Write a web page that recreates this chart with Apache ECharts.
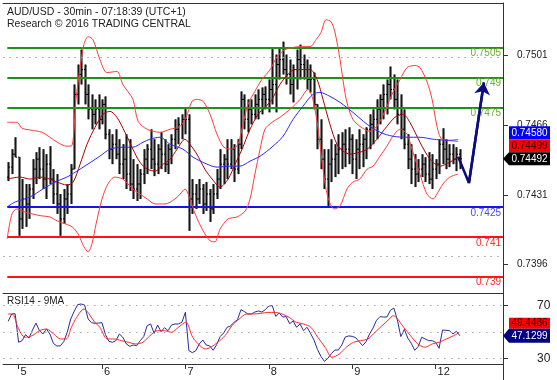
<!DOCTYPE html>
<html>
<head>
<meta charset="utf-8">
<script src="https://cdn.jsdelivr.net/npm/echarts@6/dist/echarts.min.js"></script>
<style>
html,body{margin:0;padding:0;background:#fff;}
#main{width:557px;height:380px;}
</style>
</head>
<body>
<div id="main"></div>
<script>
// ---------------- DATA ----------------
// hourly bars, hour 0 = start of day "5"; weekend collapsed (day "12" starts at hour 120)
const firstHour = -3;
const barOpen = [
0.744,0.7445,0.74515,0.745,0.7419,0.7429,0.74265,0.7434,0.7444,0.7449,
0.7444,0.7439,0.74465,0.7439,0.74315,0.74265,0.7419,0.7429,0.74315,0.7444,
0.74815,0.74915,0.7494,0.74815,0.7474,0.74715,0.7474,0.7469,0.74765,0.74615,
0.7454,0.74565,0.74515,0.74465,0.7449,0.74415,0.74365,0.7434,0.74365,0.74415,
0.7449,0.7454,0.7449,0.74465,0.7454,0.74515,0.74465,0.7454,0.7459,0.7464,
0.74665,0.7469,0.7469,0.7429,0.74315,0.7429,0.7434,0.74265,0.74315,0.7424,
0.74315,0.7439,0.74465,0.7449,0.74465,0.7454,0.7444,0.74565,0.7479,0.7469,
0.7474,0.74715,0.74765,0.7479,0.74815,0.7479,0.7484,0.74865,0.74965,0.7499,
0.7494,0.74915,0.74865,0.7494,0.7499,0.74965,0.7494,0.7489,0.7489,0.74765,
0.7459,0.7449,0.7439,0.74465,0.7449,0.74515,0.7454,0.74565,0.7454,0.7459,
0.7449,0.7454,0.74565,0.7459,0.7464,0.74665,0.7469,0.7474,0.7479,0.74815,
0.74865,0.7484,0.7479,0.74715,0.7464,0.74565,0.7449,0.7444,0.74415,0.7444,
0.74465,0.74415,0.7439,0.7444,0.74465,0.74565,0.7454,0.7449,0.74515,0.7449,
0.74515];
const barHigh = [
0.74475,0.7454,0.746,0.745,0.7439,0.74365,0.74365,0.7449,0.74525,0.7455,
0.7454,0.74515,0.74555,0.7444,0.74415,0.74315,0.7434,0.74365,0.74465,0.74865,
0.74965,0.7504,0.74965,0.74865,0.74815,0.7479,0.74815,0.7479,0.74805,0.7464,
0.74615,0.7464,0.7459,0.74565,0.74615,0.7459,0.7449,0.74465,0.7444,0.7454,
0.74565,0.7464,0.7459,0.74565,0.74625,0.7459,0.74565,0.74615,0.7469,0.747,
0.74715,0.7475,0.74715,0.7439,0.74365,0.7439,0.74365,0.74375,0.7434,0.74365,
0.7444,0.7454,0.74515,0.7459,0.7459,0.74565,0.7459,0.7483,0.74815,0.7479,
0.7479,0.74815,0.7484,0.7485,0.74855,0.7489,0.7505,0.75015,0.7505,0.7508,
0.75015,0.7499,0.74965,0.7504,0.75065,0.75015,0.7499,0.74965,0.74925,0.74765,
0.7469,0.7454,0.7454,0.7459,0.74565,0.74615,0.74625,0.7464,0.7465,0.74615,
0.7459,0.7464,0.74615,0.7465,0.74715,0.7474,0.7479,0.74815,0.74865,0.7489,
0.74955,0.74915,0.7489,0.74815,0.7474,0.74615,0.74565,0.74515,0.7449,0.74515,
0.745,0.74525,0.74515,0.7449,0.7459,0.74645,0.7459,0.74565,0.74565,0.7455,
0.7454];
const barLow = [
0.7438,0.74415,0.745,0.74105,0.7414,0.7415,0.7419,0.7429,0.74365,0.7439,
0.7434,0.7429,0.74365,0.74265,0.74215,0.74105,0.74165,0.74215,0.74265,0.7444,
0.74765,0.74865,0.74765,0.7469,0.7464,0.74665,0.7464,0.74665,0.7459,0.7449,
0.74465,0.7449,0.74415,0.7439,0.7434,0.7433,0.7429,0.7428,0.7429,0.74365,
0.74415,0.7444,0.74405,0.74415,0.7444,0.74425,0.74415,0.74465,0.7454,0.74565,
0.7459,0.74615,0.7413,0.74215,0.7424,0.74265,0.74215,0.7423,0.74175,0.74215,
0.7429,0.7434,0.74365,0.7439,0.7444,0.74375,0.74415,0.7454,0.7464,0.74625,
0.74665,0.7469,0.7469,0.74715,0.7474,0.74725,0.74765,0.74725,0.7489,0.74915,
0.74865,0.74815,0.74775,0.7484,0.7489,0.7489,0.7484,0.74825,0.7474,0.7454,
0.7444,0.7434,0.7425,0.74375,0.744,0.74415,0.7444,0.7445,0.74465,0.74415,
0.7439,0.7444,0.7445,0.7449,0.7454,0.74565,0.7459,0.74665,0.7469,0.74715,
0.7479,0.7474,0.74665,0.7459,0.7454,0.7444,0.74365,0.7435,0.74375,0.744,
0.74375,0.74365,0.7434,0.7439,0.74415,0.74465,0.7444,0.7445,0.74465,0.7443,
0.7444];
const barClose = [
0.7445,0.74515,0.745,0.7419,0.7429,0.74265,0.7434,0.7444,0.7449,0.7444,
0.7439,0.74465,0.7439,0.74315,0.74265,0.7419,0.7429,0.74315,0.7444,0.74815,
0.74915,0.7494,0.74815,0.7474,0.74715,0.7474,0.7469,0.74765,0.74615,0.7454,
0.74565,0.74515,0.74465,0.7449,0.74415,0.74365,0.7434,0.74365,0.74415,0.7449,
0.7454,0.7449,0.74465,0.7454,0.74515,0.74465,0.7454,0.7459,0.7464,0.74665,
0.7469,0.7469,0.7429,0.74315,0.7429,0.7434,0.74265,0.74315,0.7424,0.74315,
0.7439,0.74465,0.7449,0.74465,0.7454,0.7444,0.74565,0.7479,0.7469,0.7474,
0.74715,0.74765,0.7479,0.74815,0.7479,0.7484,0.74865,0.74965,0.7499,0.7494,
0.74915,0.74865,0.7494,0.7499,0.74965,0.7494,0.7489,0.7489,0.74765,0.7459,
0.7449,0.7439,0.74465,0.7449,0.74515,0.7454,0.74565,0.7454,0.7459,0.7449,
0.7454,0.74565,0.7459,0.7464,0.74665,0.7469,0.7474,0.7479,0.74815,0.74865,
0.7484,0.7479,0.74715,0.7464,0.74565,0.7449,0.7444,0.74415,0.7444,0.74465,
0.74415,0.7439,0.7444,0.74465,0.74565,0.7454,0.7449,0.74515,0.7449,0.74515,
0.74492];

// Bollinger bands and moving average: [hour, price]
const bbUpper = [[-3.3,0.74675],[-0.5,0.74675],[1,0.74645],[3.9,0.74635],[6.7,0.74625],[9,0.746],[11.1,0.74575],[13.9,0.74555],[15.4,0.7456],[16.5,0.7479],[17.7,0.7495],[18.8,0.75065],[20,0.75105],[21.4,0.7509],[23.4,0.7499],[25.4,0.74925],[28.3,0.7493],[30,0.74865],[32.9,0.7479],[34.4,0.7468],[37,0.7464],[40.7,0.74625],[43.6,0.7464],[46.5,0.74655],[48.2,0.747],[49.9,0.7478],[51.3,0.7479],[53.1,0.7478],[55.1,0.74715],[57.1,0.74615],[59.1,0.7455],[61.4,0.7454],[63.1,0.74565],[64.6,0.74665],[66,0.74765],[68,0.7483],[70,0.7489],[72.4,0.7494],[74.4,0.75005],[76.7,0.7504],[78.7,0.7505],[81,0.75055],[83.9,0.75055],[85.6,0.7509],[87,0.75125],[88.5,0.7519],[89.9,0.7518],[91,0.7513],[92.5,0.7499],[93.9,0.74825],[94.8,0.74755],[96.2,0.7469],[98.2,0.74655],[101.1,0.7463],[103.1,0.74655],[105.4,0.7473],[107.7,0.74825],[109.8,0.7489],[111.8,0.7495],[114.1,0.7496],[115.5,0.7495],[117.5,0.7488],[119,0.7479],[120.4,0.74655],[121.8,0.7459],[124.1,0.74585],[126.5,0.7459]];
const bbMiddle = [[-3.3,0.7439],[0.4,0.744],[3.3,0.7439],[6.2,0.744],[9,0.7439],[11.1,0.74375],[13.9,0.7436],[15.7,0.74375],[17.7,0.74465],[19.7,0.74565],[22,0.7465],[24.3,0.74715],[26.3,0.7473],[28.3,0.747],[30.6,0.74625],[32.9,0.7454],[34.9,0.74475],[37,0.7444],[39.3,0.7443],[41.6,0.74465],[43.6,0.7449],[45.6,0.7454],[47.9,0.7459],[49.3,0.74565],[51.3,0.74515],[53.6,0.7444],[55.7,0.7439],[58,0.7435],[60.3,0.7439],[62.3,0.74465],[64.3,0.7454],[66.6,0.7464],[68.9,0.74715],[70.9,0.7475],[72.9,0.7479],[75.2,0.74865],[77.5,0.74915],[79.5,0.7494],[81.6,0.7494],[83.9,0.7494],[85.9,0.7489],[87.6,0.7479],[89.6,0.74665],[91.6,0.74565],[93.4,0.7453],[95.4,0.74515],[98.2,0.74525],[100.3,0.7454],[103.1,0.7459],[106,0.74655],[108.3,0.747],[110.6,0.74715],[112.6,0.74675],[115.5,0.74575],[118.4,0.7449],[121.3,0.74455],[124.1,0.74475],[126.5,0.745]];
const bbLower = [[-3.3,0.7409],[-1.9,0.74215],[-0.5,0.7424],[1.8,0.74225],[3.9,0.74215],[6.7,0.74205],[9,0.742],[11.1,0.7418],[13.4,0.74165],[15.4,0.7415],[17.1,0.74115],[18.8,0.7405],[20,0.74025],[21.1,0.74065],[22.3,0.74165],[24,0.7429],[25.7,0.74365],[27.7,0.744],[30,0.7439],[32.9,0.7434],[34.9,0.74315],[37,0.7429],[39.3,0.74265],[42.1,0.74265],[45,0.7429],[46.5,0.74315],[47.9,0.7434],[49.3,0.7429],[50.8,0.74215],[53.1,0.7413],[55.1,0.7408],[56.5,0.74075],[58,0.7414],[60.3,0.7419],[62.9,0.742],[65.2,0.7423],[66.6,0.7429],[68,0.74415],[69.5,0.7454],[70.9,0.7464],[72.9,0.74675],[75.2,0.747],[78.1,0.7474],[81,0.7479],[83.3,0.7484],[84.7,0.7479],[86.2,0.7464],[87.6,0.7444],[89,0.743],[90.8,0.7424],[92.5,0.74255],[94.5,0.7434],[96.2,0.74375],[98.2,0.7439],[100.3,0.7444],[102,0.74455],[104,0.74505],[106,0.74555],[107.7,0.74605],[109.8,0.7464],[111.8,0.74615],[113.2,0.7454],[115.5,0.74415],[117.5,0.74315],[119.3,0.7429],[120.4,0.74315],[122.1,0.74365],[124.1,0.744],[126.5,0.74415]];
const movingAvg = [[-3.3,0.7425],[-1,0.74275],[3.3,0.743],[7,0.7434],[11.1,0.7438],[13.9,0.744],[17.7,0.7444],[23.4,0.74505],[26.3,0.7454],[30,0.7455],[32.9,0.7455],[35.8,0.74575],[37.8,0.7459],[40.7,0.746],[43.6,0.74565],[47.3,0.7454],[50.2,0.745],[54.2,0.74465],[57.1,0.7445],[60.8,0.74455],[63.7,0.74455],[66.6,0.7448],[69.5,0.74505],[73.2,0.74555],[76.1,0.74605],[79,0.7469],[81.8,0.74755],[84.7,0.74815],[86.7,0.74825],[89.6,0.74805],[92.5,0.74775],[96.2,0.74725],[100.3,0.74665],[104,0.74625],[107.7,0.74605],[111.8,0.746],[115.5,0.746],[119.3,0.7459],[126.5,0.7458]];

// projection arrow [hour, price]
const projection = [[126.5,0.74502],[129.6,0.7437],[133.9,0.74875]];

// horizontal levels
const greenLevels = [0.7505, 0.749, 0.7475];
const blueLevels = [0.7425];
const redLevels = [0.741, 0.739];

// RSI14 (one value per hourly bar) and its 9MA [hour, value]
const rsi = [
58.1,63.7,63.9,42.2,43.4,48,45.4,51.5,56.8,51,
48.5,52.3,48.5,41.4,39.4,39.4,42.7,49.8,59.9,65.7,
70.8,71.3,70.5,59.9,57.1,56.6,56.8,57.1,48,42.9,
42.2,43.4,48.5,46,40.9,39.1,40.1,39.6,43.4,46.5,
54.8,56.1,49,55.3,50.3,53.3,51,55.3,56.1,56.1,
57.4,65,35.8,34.3,35.8,40.9,43.9,40.1,39.4,36.1,
40.4,46.5,49.2,53.6,54.6,57.4,59.4,67,65.5,63.7,
63.7,65.2,66,65.2,67,69.8,70,61.9,64.4,61.4,
61.7,56.3,58.4,53.6,56.1,51,53.6,49,43.9,36.8,
31.5,27.7,30,33.5,36.3,36.3,40.1,46.2,47,46.7,
45.7,42.7,39.6,42.7,48.5,53,58.9,61.7,61.4,61.4,
66.5,68.2,59.1,46.5,52,45.4,41.4,36.1,38.9,46,
44.7,43.4,43.4,42.2,37.6,51.5,51.3,51,48.5,50.5,
47.13];
const rsiMa = [[-3.1,63.7],[-1.8,63.7],[-0.2,53.6],[1.8,46],[3.9,47.2],[6,51],[8,52.3],[10.1,48.5],[12.1,44.7],[13.7,44.7],[15.2,53.6],[16.7,61.1],[18.8,67.5],[20.3,63.7],[21.9,57.4],[23.4,53.6],[25.5,44.7],[27.5,44.7],[29.6,43.4],[31.6,42.2],[33.7,40.9],[35.8,42.2],[37.8,47.2],[39.9,51],[41.9,51],[44,49.8],[46,53.6],[48.1,57.4],[50.1,46],[52.2,39.6],[53.7,37.1],[55.3,38.4],[57.3,42.2],[59.4,47.2],[61.4,54.8],[63.5,59.9],[65.6,63.7],[67.6,63.7],[69.7,64.2],[71.7,64.9],[73.8,64.9],[75.8,63.7],[77.9,61.1],[79.9,57.4],[82,56.1],[84.1,53.6],[86.1,46],[88.2,38.4],[90.2,30.8],[92.3,33.3],[94.3,38.4],[96.4,42.2],[98.4,43.4],[100.5,44.7],[102.6,49.8],[104.6,54.8],[106.7,59.9],[107.7,62.4],[108.7,61.1],[110.8,53.6],[112.8,47.2],[114.9,40.9],[116.9,38.4],[119,40.9],[121,42.2],[123.1,44.7],[125.2,47.2],[126.7,49.45]];

// axis ticks / labels
const priceTicks = [0.7396, 0.7431, 0.7466, 0.7501];
const rsiTicks = [30, 70];
const rsiGridValues = [30, 50, 70];
const dayHours = [0, 24, 48, 72, 96, 120];
const dayLabels = ['5', '6', '7', '8', '9', '12'];

// last-value tags
const lastMa = '0.74580', lastMid = '0.74499', lastClose = '0.74492';
const lastRsiMa = '49.4486', lastRsi = '47.1299';
const titleLine1 = 'AUD/USD - 30min - 07:18:39 (UTC+1)';
const titleLine2 = 'Research \u00A9 2016 TRADING CENTRAL';
const rsiTitle = 'RSI14 - 9MA';

// ---------------- CHART ----------------
const FONT = '"Liberation Sans", Arial, sans-serif';
const xMin = -4.49, xMax = 139.4;
const chart = echarts.init(document.getElementById('main'), null, {renderer: 'canvas'});

function levelItems(values, lineColor, labelColor) {
  return values.map(v => [
    {coord: [firstHour - 0.25, v],
     lineStyle: {color: lineColor, width: 2, type: 'solid'},
     label: {show: true, position: 'insideEndBottom', formatter: String(v), color: labelColor,
             fontSize: 10, fontFamily: FONT, distance: [2, 1]}},
    {coord: [xMax, v]}
  ]);
}
function bandLine(data, color, z) {
  return {type: 'line', xAxisIndex: 0, yAxisIndex: 0, data: data, symbol: 'none', showSymbol: false,
          smooth: 0.3, silent: true, lineStyle: {color: color, width: 1}, z: z};
}

const option = {
  animation: false,
  backgroundColor: '#fff',
  textStyle: {fontFamily: FONT},
  grid: [
    {left: 3, right: 54, top: 3, height: 290, containLabel: false, outerBoundsMode: 'none'},
    {left: 3, right: 54, top: 293, height: 71, containLabel: false, outerBoundsMode: 'none'}
  ],
  xAxis: [
    {gridIndex: 0, type: 'value', min: xMin, max: xMax,
     axisLine: {show: true, onZero: false, lineStyle: {color: '#333', width: 1}},
     axisTick: {show: false}, axisLabel: {show: false}, splitLine: {show: false}},
    {gridIndex: 0, type: 'value', position: 'top', min: xMin, max: xMax,
     axisLine: {show: true, onZero: false, lineStyle: {color: '#333', width: 1}},
     axisTick: {show: false}, axisLabel: {show: false}, splitLine: {show: false}},
    {gridIndex: 1, type: 'value', min: xMin, max: xMax,
     axisLine: {show: true, onZero: false, lineStyle: {color: '#333', width: 1}},
     axisTick: {show: true, customValues: dayHours, length: 5, lineStyle: {color: '#333'}},
     axisLabel: {show: true, customValues: dayHours, formatter: v => dayLabels[dayHours.indexOf(v)],
                 align: 'left', padding: [0, 0, 0, 2], margin: 2, fontSize: 11, color: '#222', fontFamily: FONT},
     splitLine: {show: false}}
  ],
  yAxis: [
    {gridIndex: 0, type: 'value', position: 'right', min: 0.73818, max: 0.75274, scale: true,
     axisLine: {show: true, onZero: false, lineStyle: {color: '#333', width: 1}},
     axisTick: {show: true, customValues: priceTicks, length: 5, lineStyle: {color: '#333'}},
     axisLabel: {show: true, customValues: priceTicks, formatter: v => v.toFixed(4), margin: 14,
                 fontSize: 10, color: '#222', fontFamily: FONT},
     splitLine: {show: false}},
    {gridIndex: 1, type: 'value', position: 'right', min: 25.67, max: 79.66, scale: true,
     axisLine: {show: true, onZero: false, lineStyle: {color: '#333', width: 1}},
     axisTick: {show: true, customValues: rsiTicks, length: 5, lineStyle: {color: '#333'}},
     axisLabel: {show: true, customValues: rsiTicks, formatter: v => String(v), margin: 34,
                 fontSize: 12, color: '#222', fontFamily: FONT},
     splitLine: {show: false}}
  ],
  series: [
    // dotted grid lines (price panel)
    {type: 'line', xAxisIndex: 0, yAxisIndex: 0, data: [], z: 0, silent: true,
     markLine: {silent: true, symbol: 'none', animation: false, label: {show: false},
                lineStyle: {color: '#aaa', width: 1, type: [1.5, 5]},
                data: priceTicks.map(v => ({yAxis: v}))}},
    // dotted grid lines (RSI panel)
    {type: 'line', xAxisIndex: 2, yAxisIndex: 1, data: [], z: 0, silent: true,
     markLine: {silent: true, symbol: 'none', animation: false, label: {show: false},
                lineStyle: {color: '#aaa', width: 1, type: [1.5, 5.5]},
                data: rsiGridValues.map(v => ({yAxis: v}))}},
    // price bars
    {type: 'custom', xAxisIndex: 0, yAxisIndex: 0, silent: true, z: 3,
     data: barOpen.map((o, k) => [firstHour + k, o, barHigh[k], barLow[k], barClose[k]]),
     encode: {x: 0, y: [1, 2, 3, 4]},
     renderItem: function (params, api) {
       const h = api.value(0);
       const pO = api.coord([h, api.value(1)]);
       const pH = api.coord([h, api.value(2)]);
       const pL = api.coord([h, api.value(3)]);
       const pC = api.coord([h, api.value(4)]);
       const cx = Math.round(pH[0]) + 0.5;
       return {type: 'group', children: [
         {type: 'rect', shape: {x: cx - 1.5, y: pH[1], width: 3, height: Math.max(1, pL[1] - pH[1])},
          style: {fill: '#7e7e7e'}},
         {type: 'line', shape: {x1: cx, y1: pH[1], x2: cx, y2: pL[1]}, style: {stroke: '#161616', lineWidth: 1}},
         {type: 'line', shape: {x1: cx - 1.5, y1: pO[1], x2: cx, y2: pO[1]}, style: {stroke: '#000', lineWidth: 1}},
         {type: 'line', shape: {x1: cx, y1: pC[1], x2: cx + 1.5, y2: pC[1]}, style: {stroke: '#000', lineWidth: 1}}
       ]};
     }},
    bandLine(bbUpper, '#ff3b3b', 5),
    bandLine(bbLower, '#ff3b3b', 5),
    bandLine(bbMiddle, '#a80000', 5),
    bandLine(movingAvg, '#2b2bff', 5),
    // horizontal levels
    {type: 'line', xAxisIndex: 0, yAxisIndex: 0, data: [], z: 6, silent: true,
     markLine: {silent: true, symbol: 'none', animation: false,
                data: [].concat(levelItems(greenLevels, '#1c921c', '#6aac2c'),
                                levelItems(blueLevels, '#1414e6', '#4848ff'),
                                levelItems(redLevels, '#ff1414', '#ff2a2a'))}},
    // projection arrow
    {type: 'line', xAxisIndex: 0, yAxisIndex: 0, data: projection, symbol: 'none', silent: true, z: 8,
     lineStyle: {color: '#0c0c7c', width: 2.5},
     markLine: {silent: true, animation: false, symbol: ['none', 'arrow'], symbolSize: 12,
                label: {show: false}, lineStyle: {color: '#0c0c7c', width: 2.5, type: 'solid'},
                data: [[{coord: projection[1]}, {coord: projection[2]}]]}},
    // RSI
    {type: 'line', xAxisIndex: 2, yAxisIndex: 1, data: rsi.map((v, k) => [firstHour + k, v]),
     symbol: 'none', silent: true, z: 4, lineStyle: {color: '#2a2a9c', width: 1}},
    {type: 'line', xAxisIndex: 2, yAxisIndex: 1, data: rsiMa, symbol: 'none', silent: true, smooth: 0.3, z: 5,
     lineStyle: {color: '#ff2a2a', width: 1}}
  ]
};
chart.setOption(option);

// last-value tags on the right axis
const yClose = chart.convertToPixel({yAxisIndex: 0}, parseFloat(lastClose));
const yRsi = chart.convertToPixel({yAxisIndex: 1}, parseFloat(lastRsi));
function tagText(txt, cx, cy, color) {
  return {type: 'text', z: 100, x: cx, y: cy,
          style: {text: txt, fill: color, font: '10px ' + FONT, textAlign: 'center', textVerticalAlign: 'middle'}};
}
const graphics = [
  {type: 'text', z: 100, x: 7, y: 6.5, style: {text: titleLine1, fill: '#222', font: '10.5px ' + FONT, textVerticalAlign: 'top'}},
  {type: 'text', z: 100, x: 7, y: 18.5, style: {text: titleLine2, fill: '#222', font: '10.5px ' + FONT, textVerticalAlign: 'top'}},
  {type: 'text', z: 100, x: 7, y: 296, style: {text: rsiTitle, fill: '#222', font: '10px ' + FONT, textVerticalAlign: 'top'}},
  {type: 'line', z: 100, shape: {x1: 503.5, y1: 364, x2: 503.5, y2: 380}, style: {stroke: '#333', lineWidth: 1}},
  // price tags
  {type: 'rect', z: 99, shape: {x: 509, y: yClose - 6.5 - 26, width: 41, height: 13}, style: {fill: '#0000ff'}},
  tagText(lastMa, 529.5, yClose - 6.5 - 19.5, '#fff'),
  {type: 'rect', z: 99, shape: {x: 509, y: yClose - 6.5 - 13, width: 41, height: 13}, style: {fill: '#ff0000'}},
  tagText(lastMid, 529.5, yClose - 6.5 - 6.5, '#2a0000'),
  {type: 'polygon', z: 99, shape: {points: [[503, yClose], [509, yClose - 6.5], [550, yClose - 6.5], [550, yClose + 6.5], [509, yClose + 6.5]]}, style: {fill: '#000'}},
  tagText(lastClose, 529.5, yClose, '#fff'),
  // RSI tags
  {type: 'rect', z: 99, shape: {x: 509, y: yRsi - 7 - 11, width: 41, height: 11}, style: {fill: '#ff0000'}},
  tagText(lastRsiMa, 529.5, yRsi - 7 - 5.5, '#2a0000'),
  {type: 'polygon', z: 99, shape: {points: [[503, yRsi], [509, yRsi - 7], [550, yRsi - 7], [550, yRsi + 7], [509, yRsi + 7]]}, style: {fill: '#000080'}},
  tagText(lastRsi, 529.5, yRsi, '#fff')
];
chart.setOption({graphic: graphics});
</script>
</body>
</html>
